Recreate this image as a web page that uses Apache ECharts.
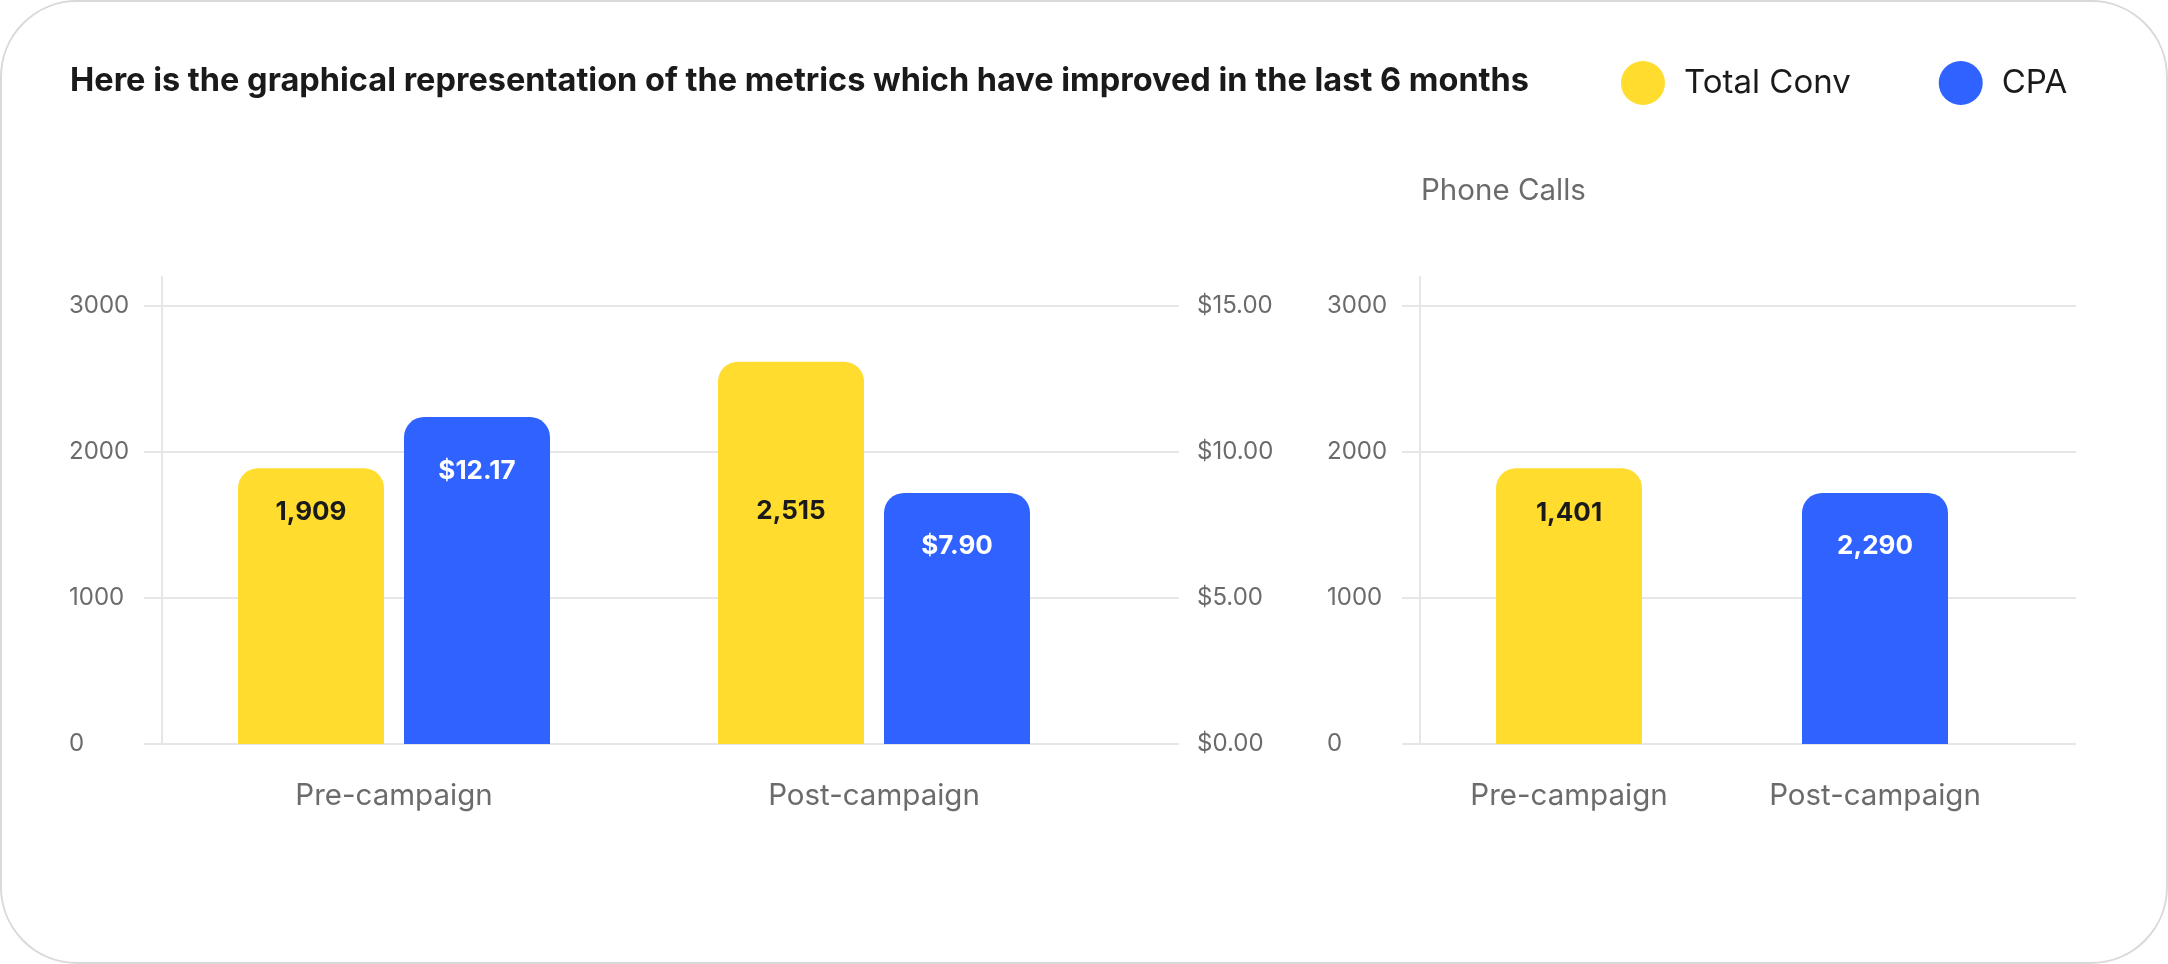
<!DOCTYPE html>
<html>
<head>
<meta charset="utf-8">
<script src="https://cdn.jsdelivr.net/npm/echarts@6/dist/echarts.min.js"></script>
<style>
    html, body { margin: 0; padding: 0; background: #fff; }
    #chart { width: 2168px; height: 964px; }
</style>
</head>
<body>
<div id="chart"></div>
<script>
const campaignCategories = ['Pre-campaign', 'Post-campaign'];
// bar heights
const totalConvValues = [1890, 2620];
const cpaValues = [11.2, 8.6];
const phoneCallValues = [1890, 1720];
// numbers printed inside the bars
const totalConvLabels = ['1,909', '2,515'];
const cpaLabels = ['$12.17', '$7.90'];
const phoneCallLabels = ['1,401', '2,290'];
// axis ticks
const convTicks = [0, 1000, 2000, 3000];
const cpaTicks = [0, 5, 10, 15];

const yellow = '#FFDC2E';
const blue = '#2F62FF';
const gridColor = '#E6E6E6';
const labelGray = '#6B6B6B';
const font = 'Inter';

// a little headroom above the top tick, same on both scales
const convMax = 3200;
const cpaMax = 16;

var chart = echarts.init(document.getElementById('chart'));

function frameYAxis(gridIndex) {
    return {
        type: 'value', gridIndex: gridIndex,
        min: convTicks[0], max: convMax, interval: convTicks[1] - convTicks[0],
        offset: -18,
        axisLine: { show: true, lineStyle: { color: gridColor, width: 2 } },
        axisTick: { show: false },
        axisLabel: {
            showMaxLabel: false, margin: 93, align: 'left',
            color: labelGray, fontSize: 24, fontFamily: font,
            formatter: v => String(v)
        },
        splitLine: { showMaxLine: false, lineStyle: { color: gridColor, width: 2 } }
    };
}

function hiddenYAxis(gridIndex, max) {
    return { type: 'value', gridIndex: gridIndex, min: 0, max: max, show: false, splitLine: { show: false } };
}

function categoryXAxis(gridIndex, visible) {
    return {
        type: 'category', gridIndex: gridIndex, data: campaignCategories, show: visible,
        axisLine: { show: false },
        axisTick: { show: false },
        axisLabel: { margin: 37, color: labelGray, fontSize: 29.5, fontFamily: font }
    };
}

function barLabel(texts, color) {
    return {
        show: true,
        formatter: p => texts[p.dataIndex],
        color: color, fontSize: 26, fontWeight: 'bold', fontFamily: font,
        align: 'center', verticalAlign: 'middle'
    };
}

var option = {
    animation: false,
    textStyle: { fontFamily: font },
    graphic: [{
        type: 'rect', z: -10,
        shape: { x: 1, y: 1, width: 2166, height: 962, r: 76 },
        style: { fill: 'transparent', stroke: '#D9D9D9', lineWidth: 2 }
    }],
    title: [{
        text: 'Here is the graphical representation of the metrics which have improved in the last 6 months',
        left: 65, top: 60,
        textStyle: { fontSize: 32.5, fontWeight: 'bold', color: '#1A1A1A', fontFamily: font }
    }, {
        text: 'Phone Calls',
        left: 1416, top: 171,
        textStyle: { fontSize: 29.5, fontWeight: 'normal', color: labelGray, fontFamily: font }
    }],
    legend: {
        data: ['Total Conv', 'CPA'],
        left: 1616, top: 56,
        icon: 'circle', itemWidth: 44, itemHeight: 44, itemGap: 88,
        textStyle: { fontSize: 33, color: '#1A1A1A', fontFamily: font, padding: [0, 0, 0, 14] }
    },
    grid: [
        // left chart: frame (gridlines, axes) and bars
        { left: 144, right: 2168 - 1179, top: 277, bottom: 964 - 744 },
        { left: 154, right: 2168 - 1114, top: 277, bottom: 964 - 744 },
        // right chart
        { left: 1402, right: 2168 - 2076, top: 277, bottom: 964 - 744 },
        { left: 1416, right: 2168 - 2028, top: 277, bottom: 964 - 744 }
    ],
    xAxis: [
        categoryXAxis(0, false),
        categoryXAxis(1, true),
        categoryXAxis(2, false),
        categoryXAxis(3, true)
    ],
    yAxis: [
        frameYAxis(0),
        {
            type: 'value', gridIndex: 0, position: 'right',
            min: cpaTicks[0], max: cpaMax, interval: cpaTicks[1] - cpaTicks[0],
            axisLine: { show: false }, axisTick: { show: false }, splitLine: { show: false },
            axisLabel: {
                showMaxLabel: false, margin: 18,
                color: labelGray, fontSize: 24, fontFamily: font,
                formatter: v => '$' + v.toFixed(2)
            }
        },
        hiddenYAxis(1, convMax),
        hiddenYAxis(1, cpaMax),
        frameYAxis(2),
        hiddenYAxis(3, convMax)
    ],
    series: [{
        name: 'Total Conv', type: 'bar', xAxisIndex: 1, yAxisIndex: 2,
        barWidth: 146, barGap: '13.7%',
        itemStyle: { color: yellow, borderRadius: [20, 20, 0, 0] },
        label: barLabel(totalConvLabels, '#1A1A1A'),
        data: totalConvValues.map((v, i) => ({ value: v, label: { position: ['50%', [44, 150][i]] } }))
    }, {
        name: 'CPA', type: 'bar', xAxisIndex: 1, yAxisIndex: 3,
        barWidth: 146, barGap: '13.7%',
        itemStyle: { color: blue, borderRadius: [20, 20, 0, 0] },
        label: barLabel(cpaLabels, '#FFFFFF'),
        data: cpaValues.map((v, i) => ({ value: v, label: { position: ['50%', [54, 53][i]] } }))
    }, {
        name: 'Phone Calls', type: 'bar', xAxisIndex: 3, yAxisIndex: 5,
        barWidth: 146,
        itemStyle: { borderRadius: [20, 20, 0, 0] },
        data: phoneCallValues.map((v, i) => ({
            value: v,
            itemStyle: { color: [yellow, blue][i] },
            label: Object.assign(barLabel(phoneCallLabels, ['#1A1A1A', '#FFFFFF'][i]), { position: ['50%', [45, 53][i]] })
        }))
    }]
};

chart.setOption(option);
window.onresize = function () {
    chart.resize();
};
</script>
</body>
</html>
